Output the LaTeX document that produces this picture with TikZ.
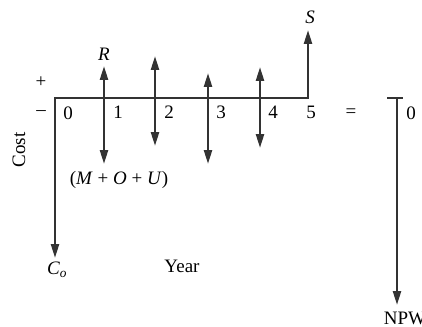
\documentclass[tikz,border=0pt]{standalone}
\usepackage{fontspec}
\setmainfont{Liberation Serif}
\usetikzlibrary{arrows.meta}
\begin{document}
\begin{tikzpicture}[x=1pt,y=-1pt,
  flow/.style={line width=2.4pt,color=black!80,line join=miter,
    {Triangle[length=14pt,width=8pt]}-{Triangle[length=14pt,width=8pt]}},
  down/.style={line width=2.4pt,color=black!80,-{Triangle[length=14pt,width=8pt]}},
  lbl/.style={font=\fontsize{19}{21}\selectfont,inner sep=0pt}]
\useasboundingbox (0,0) rectangle (422,326);
% axis and main arrows
\coordinate (stop) at (308,30);
\coordinate (e) at (308,98);
\coordinate (o) at (55,98);
\coordinate (c0) at (55,258);
\draw[flow] (stop) -- (e) -- (o) -- (c0);
% annual arrows
\coordinate (a1t) at (104,66); \coordinate (a1b) at (104,164);
\coordinate (a2t) at (155,56); \coordinate (a2b) at (155,146);
\coordinate (a3t) at (208,73); \coordinate (a3b) at (208,164);
\coordinate (a4t) at (260,67); \coordinate (a4b) at (260,148);
\draw[flow] (a1t) -- (a1b);
\draw[flow] (a2t) -- (a2b);
\draw[flow] (a3t) -- (a3b);
\draw[flow] (a4t) -- (a4b);
% labels
\node[lbl] (S) at (310,17) {\textit{S}};
\node[lbl] (R) at (104,54) {\textit{R}};
\node[lbl] (plus) at (41,82) {+};
\node[lbl] (minus) at (41,113) {\textendash};
\node[lbl] (y0) at (68,113) {0};
\node[lbl] (y1) at (118,112) {1};
\node[lbl] (y2) at (169,112) {2};
\node[lbl] (y3) at (221,112) {3};
\node[lbl] (y4) at (273,112) {4};
\node[lbl] (y5) at (311,112) {5};
\node[lbl,rotate=90] (cost) at (19,150) {Cost};
\node[lbl] (mou) at (119,180) {(\textit{M} + \textit{O} + \textit{U})};
\node[lbl] (C0) at (57,270) {\textit{C}\textsubscript{\textit{o}}};
\node[lbl] (year) at (182,266) {Year};
\node[lbl] (eq) at (351,113) {=};
% equivalent
\coordinate (bl) at (387,98); \coordinate (br) at (403,98);
\coordinate (nt) at (397,98); \coordinate (nb) at (397,305);
\draw[line width=2.4pt,color=black!80] (bl) -- (br);
\draw[down] (nt) -- (nb);
\node[lbl] (z) at (411,113) {0};
\node[lbl] (npw) at (405,318) {NPW};
\end{tikzpicture}
\end{document}
